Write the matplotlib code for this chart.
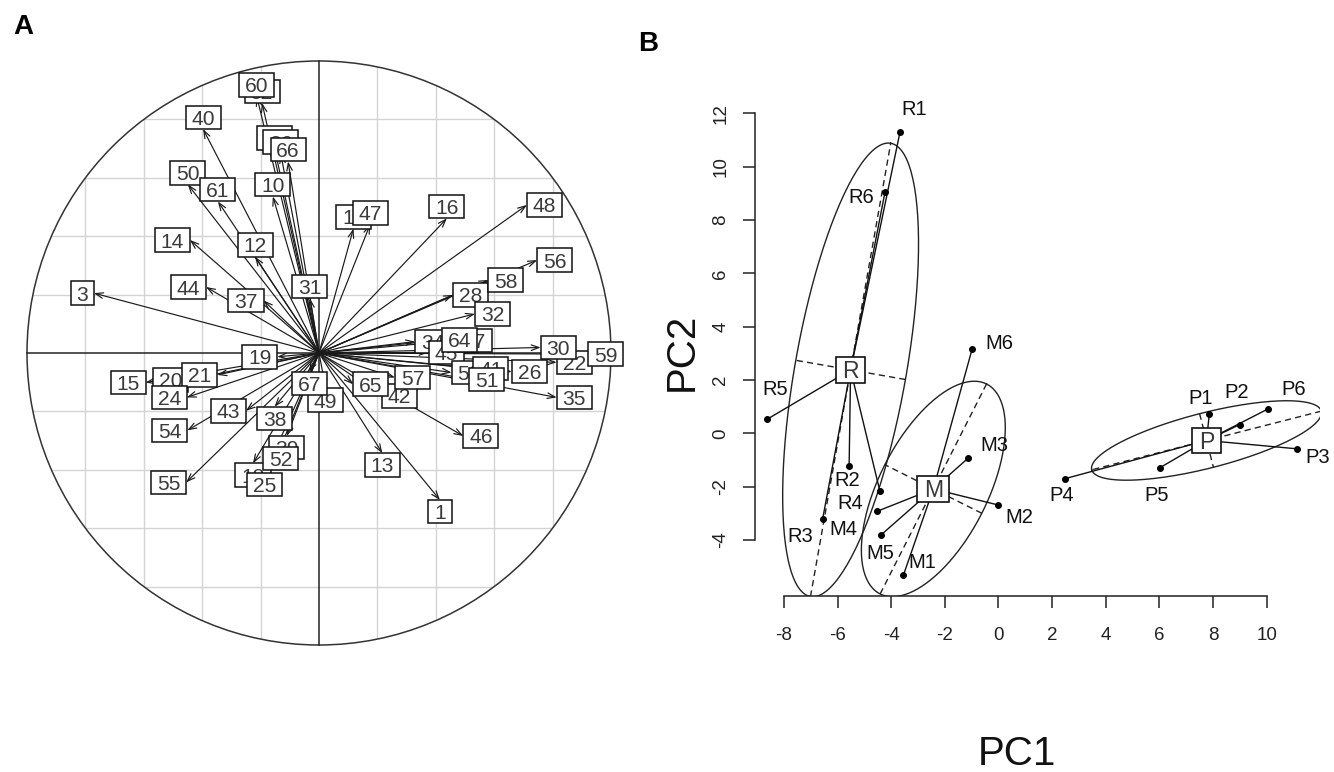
import numpy as np
import matplotlib
matplotlib.use("Agg")
import matplotlib.pyplot as plt
from matplotlib.patches import Circle, Rectangle

plt.rcParams['font.family'] = ['Liberation Sans', 'DejaVu Sans']
plt.rcParams['axes.unicode_minus'] = False

W, H = 1334, 772

# ---- Panel A: variable arrows on the correlation circle (arrow tips)
# drawing order matters: labels later in the list sit on top
var_labels = ['62', '23', '36', '11', '34', '45', '17', '53', '41', '42', '20', '39',
              '18', '22', '49', '28', '60', '40', '66', '50', '61', '10', '14', '12',
              '44', '37', '3', '31', '19', '47', '16', '48', '56', '58', '32', '64',
              '30', '59', '26', '51', '57', '65', '35', '46', '13', '1', '67', '21',
              '15', '24', '43', '54', '38', '52', '25', '55']
var_x = [-0.195, -0.151, -0.131, 0.118, 0.329, 0.375, 0.472, 0.454, 0.528, 0.215, -0.448, -0.110,
         -0.226, 0.814, 0.023, 0.459, -0.213, -0.397, -0.106, -0.449, -0.346, -0.158, -0.442, -0.219,
         -0.387, -0.190, -0.771, -0.031, -0.143, 0.175, 0.438, 0.712, 0.747, 0.580, 0.534, 0.420,
         0.759, 0.922, 0.660, 0.515, 0.260, 0.117, 0.814, 0.494, 0.217, 0.414, -0.034, -0.348,
         -0.594, -0.453, -0.250, -0.451, -0.152, -0.131, -0.185, -0.455]
var_y = [0.856, 0.696, 0.682, 0.426, 0.039, 0.002, 0.043, -0.067, -0.053, -0.147, -0.092, -0.284,
         -0.378, -0.032, -0.121, 0.199, 0.878, 0.767, 0.656, 0.577, 0.519, 0.536, 0.387, 0.330,
         0.226, 0.180, 0.205, 0.187, -0.013, 0.440, 0.461, 0.507, 0.318, 0.250, 0.134, 0.045,
         0.019, -0.004, -0.064, -0.090, -0.084, -0.107, -0.152, -0.284, -0.343, -0.503, -0.064, -0.075,
         -0.101, -0.152, -0.198, -0.265, -0.184, -0.321, -0.410, -0.443]

# ---- Panel B: sample scores on PC1 / PC2
obs_labels = ['R1', 'R2', 'R3', 'R4', 'R5', 'R6',
              'M1', 'M2', 'M3', 'M4', 'M5', 'M6',
              'P1', 'P2', 'P3', 'P4', 'P5', 'P6']
obs_group = ['R'] * 6 + ['M'] * 6 + ['P'] * 6
obs_x = [-3.67, -5.57, -6.56, -4.42, -8.64, -4.23,
         -3.55, 0.00, -1.13, -4.54, -4.38, -0.98,
         7.86, 9.00, 11.12, 2.48, 6.02, 10.06]
obs_y = [11.31, -1.22, -3.22, -2.18, 0.52, 9.06,
         -5.33, -2.69, -0.93, -2.93, -3.81, 3.17,
         0.71, 0.33, -0.58, -1.70, -1.29, 0.92]
groups = ['R', 'M', 'P']
xticks_b = [-8, -6, -4, -2, 0, 2, 4, 6, 8, 10]
yticks_b = [-4, -2, 0, 2, 4, 6, 8, 10, 12]

# label offsets of the point names, in pixels
obs_label_off = [(14, 22), (-2, -15), (-22, -17), (-30, -12), (8, 30), (-24, -6),
                 (19, 13), (21, -12), (26, 13), (-33, -18), (-1, -19), (27, 5),
                 (-9, 16), (-3, 32), (21, -9), (-3, -17), (-3, -28), (25, 19)]

CHAR_W = {'R': 0.722, 'M': 0.833, 'P': 0.667}


def text_w(s):
    return sum(CHAR_W.get(c, 0.556) for c in s)


def boxed(ax, center_px, s, ms, z, color='#3a3a3a', lw=1.1):
    # R style box: label padded by one space each side
    inv = ax.transData.inverted()
    w = (text_w(s) + 0.556) * ms
    h = 1.12 * ms
    cx, cy = center_px
    (x0, y0) = inv.transform((cx - w / 2, cy - h / 2))
    (x1, y1) = inv.transform((cx + w / 2, cy + h / 2))
    ax.add_patch(Rectangle((x0, y0), x1 - x0, y1 - y0, fc='white', ec='#111',
                           lw=lw, zorder=z, clip_on=False))
    tx, ty = inv.transform((cx, cy - 0.358 * ms))
    ax.text(tx, ty, s, ha='center', va='baseline', fontsize=ms * 0.72,
            color=color, zorder=z + 0.5, clip_on=False)


fig = plt.figure(figsize=(W / 100, H / 100), dpi=100)

# ================= Panel A =================
cx0, cy0, rad = 319, 353, 292
lim = 1.03
axA = fig.add_axes([(cx0 - lim * rad) / W, (H - (cy0 + lim * rad)) / H,
                    2 * lim * rad / W, 2 * lim * rad / H])
axA.set_xlim(-lim, lim)
axA.set_ylim(-lim, lim)
axA.axis('off')

circ = Circle((0, 0), 1, fill=False, ec='#333333', lw=1.1, zorder=1)
axA.add_patch(circ)
for g in np.arange(-0.8, 0.81, 0.2):
    if abs(g) < 1e-9:
        continue
    for ln in (axA.plot([g, g], [-1, 1], color='#d4d4d4', lw=1.0, zorder=0)[0],
               axA.plot([-1, 1], [g, g], color='#d4d4d4', lw=1.0, zorder=0)[0]):
        ln.set_clip_path(circ)
axA.plot([-1, 1], [0, 0], color='#222', lw=1.1, zorder=1)
axA.plot([0, 0], [-1, 1], color='#222', lw=1.1, zorder=1)

for x, y in zip(var_x, var_y):
    axA.annotate('', xy=(x, y), xytext=(0, 0),
                 arrowprops=dict(arrowstyle='->,head_length=0.55,head_width=0.2',
                                 lw=0.85, color='#1a1a1a', shrinkA=0, shrinkB=0),
                 zorder=2)

msA = 21.0
for i, (s, x, y) in enumerate(zip(var_labels, var_x, var_y)):
    tx, ty = axA.transData.transform((x, y))
    w = (text_w(s) + 0.556) * msA
    h = 1.12 * msA
    if x > y and x > -y:
        c = (tx + w / 2, ty)
    elif x > y:
        c = (tx, ty - h / 2)
    elif x <= -y:
        c = (tx - w / 2, ty)
    else:
        c = (tx, ty + h / 2)
    boxed(axA, c, s, msA, 3 + i)

# ================= Panel B =================
x0b, x1b, y0b, y1b = -9.08, 12.0, -6.10, 12.87
axB = fig.add_axes([755 / W, (H - 596) / H, (1320.3 - 755) / W, (596 - 90.1) / H])
axB.set_xlim(x0b, x1b)
axB.set_ylim(y0b, y1b)
for side in ('top', 'right'):
    axB.spines[side].set_visible(False)
axB.spines['left'].set_bounds(-4, 12)
axB.spines['bottom'].set_bounds(-8, 10)
for side in ('left', 'bottom'):
    axB.spines[side].set_linewidth(1.1)
    axB.spines[side].set_color('#222')
axB.set_xticks(xticks_b)
axB.set_yticks(yticks_b)
axB.tick_params(axis='both', length=8.5, width=1.1, color='#222', labelsize=13.5,
                labelcolor='#222')
axB.tick_params(axis='x', pad=14)
axB.tick_params(axis='y', pad=10)
for lab in axB.get_yticklabels():
    lab.set_rotation(90)
    lab.set_va('center')

ox = np.array(obs_x)
oy = np.array(obs_y)
og = np.array(obs_group)
t = np.linspace(0, 2 * np.pi, 200)
for gname in groups:
    m = og == gname
    gx, gy = ox[m], oy[m]
    mx, my = gx.mean(), gy.mean()
    cov = np.cov(np.vstack([gx, gy]), bias=True)
    vals, vecs = np.linalg.eigh(cov)
    a1 = 1.5 * np.sqrt(vals[1]) * vecs[:, 1]
    a2 = 1.5 * np.sqrt(vals[0]) * vecs[:, 0]
    ex = mx + a1[0] * np.cos(t) + a2[0] * np.sin(t)
    ey = my + a1[1] * np.cos(t) + a2[1] * np.sin(t)
    axB.plot(ex, ey, color='#222', lw=1.0, zorder=2)
    for a in (a1, a2):
        axB.plot([mx - a[0], mx + a[0]], [my - a[1], my + a[1]], color='#222',
                 lw=1.0, dashes=(4.5, 3), zorder=2)
    for px, py in zip(gx, gy):
        axB.plot([mx, px], [my, py], color='#111', lw=1.0, zorder=3)
    axB.plot(gx, gy, 'o', color='black', ms=4, zorder=4)
    boxed(axB, axB.transData.transform((mx, my)), gname, 23.0, 6, lw=1.2)

for s, x, y, off in zip(obs_labels, obs_x, obs_y, obs_label_off):
    axB.annotate(s, xy=(x, y), xytext=off, textcoords='offset pixels',
                 ha='center', va='center', fontsize=14.5, color='#111', zorder=5)

fig.text(682 / W, 1 - 352 / H, 'PC2', rotation=90, ha='center', va='center',
         fontsize=29, color='#111')
fig.text(1017 / W, 1 - 754 / H, 'PC1', ha='center', va='center',
         fontsize=29, color='#111')
fig.text(23 / W, 1 - 27 / H, 'A', ha='center', va='center', fontsize=20,
         fontweight='bold')
fig.text(648 / W, 1 - 44 / H, 'B', ha='center', va='center', fontsize=20,
         fontweight='bold')

fig.savefig('out.png', dpi=100)
